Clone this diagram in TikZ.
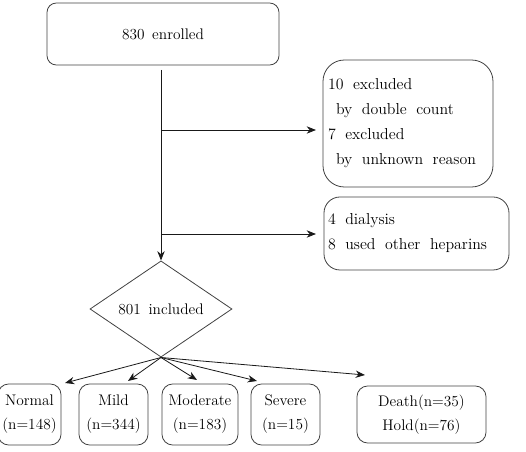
\documentclass[tikz,border=0pt]{standalone}
\usetikzlibrary{shapes.geometric,arrows.meta}
\newcommand\flowfont{\fontsize{11.5}{18}\selectfont\spaceskip=0.5em plus 0.1em\relax}
\begin{document}
\begin{tikzpicture}[x=0.75pt,y=-0.75pt,
  txt/.style={font=\flowfont},
  box/.style={draw=black!75,line width=0.6pt,txt,inner sep=0pt,align=center},
  lbox/.style={box,align=left,execute at begin node={\fontsize{11.9}{18.75}\selectfont\spaceskip=0.6em plus 0.1em\relax}},
  conn/.style={line width=0.6pt,draw=black!90},
  arr/.style={conn,-{Stealth[length=7pt,width=5.5pt]}}]
\useasboundingbox (0,0) rectangle (526,452);
% top box
\node[box,rounded corners=7pt,minimum width=174pt,minimum height=46.5pt] (enr) at (163,34) {830 enrolled};
% exclusion boxes
\node[lbox,rounded corners=16pt,minimum height=95.25pt,text width=120pt,inner xsep=3.75pt] (exa) at (408,123.5)
  {10 excluded\\\hspace*{6pt}by double count\\7 excluded\\\hspace*{6pt}by unknown reason};
\node[lbox,rounded corners=12pt,minimum height=54.75pt,text width=132.75pt,inner xsep=3pt] (exb) at (416.5,233.5)
  {4 dialysis\\8 used other heparins};
% diamond
\node[draw=black!75,line width=0.6pt,diamond,txt,inner sep=0pt,minimum width=106.5pt,minimum height=67.5pt] (inc) at (161,309) {801 included};
% bottom boxes
\node[box,rounded corners=8pt,minimum width=47.25pt,minimum height=45.75pt] (nor) at (29.5,414.5) {Normal\\(n=148)};
\node[box,rounded corners=8pt,minimum width=51.75pt,minimum height=45.75pt] (mil) at (113.5,414.5) {Mild\\(n=344)};
\node[box,rounded corners=8pt,minimum width=57pt,minimum height=45.75pt] (mod) at (200,414.5) {Moderate\\(n=183)};
\node[box,rounded corners=8pt,minimum width=51.75pt,minimum height=45.75pt] (sev) at (285.5,414.5) {Severe\\(n=15)};
\node[box,rounded corners=8pt,minimum width=96.75pt,minimum height=42.75pt] (dea) at (421.5,414.5) {Death(n=35)\\Hold(n=76)};
% coordinates
\coordinate (v0) at (161,70);
\coordinate (b1) at (161,130);
\coordinate (e1) at (316,130);
\coordinate (b2) at (161,234);
\coordinate (e2) at (316,234);
\coordinate (tN) at (65,383);
\coordinate (tMi) at (128,381);
\coordinate (tMo) at (197,380);
\coordinate (tS) at (257,381);
\coordinate (tD) at (365,375);
% connectors
\draw[arr] (v0) -- (inc.north);
\draw[arr] (b1) -- (e1);
\draw[arr] (b2) -- (e2);
\foreach \t in {tN,tMi,tMo,tS,tD} \draw[arr] (inc.south) -- (\t);
\end{tikzpicture}
\end{document}
